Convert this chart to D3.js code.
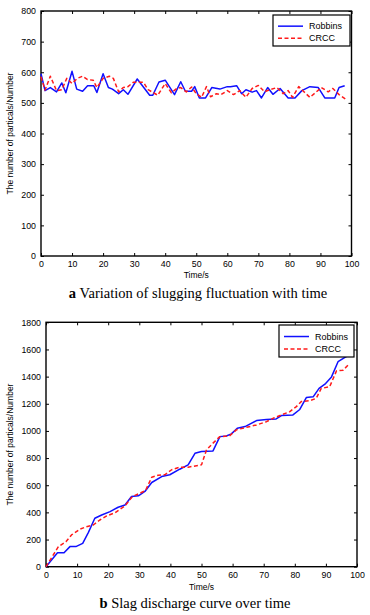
<!DOCTYPE html>
<html><head><meta charset="utf-8">
<script src="https://cdn.jsdelivr.net/npm/d3@7"></script>
<style>body{margin:0;background:#fff;}svg{display:block;}</style>
</head><body>
<script>
// ---- Data (a) slugging fluctuation ----
const robbinsA_t = [0,1.3,3,5,6.7,8,10,11.5,13.4,15,17,18,20,21.7,23,25,26.5,28,31,35,36,38,40,43,45,46.5,48.5,49.5,51,53,55,57.6,60,61,63,64.6,66,68,69.4,71,73,74.7,77,79.6,81.8,84,86.6,89.3,91.4,94.6,96,97.8];
const robbinsA_v = [595,540,550,536,565,533,603,545,538,556,556,534,595,550,545,530,543,528,578,525,525,568,574,527,569,538,538,553,516,516,550,545,553,553,556,530,543,535,540,516,550,528,547,516,516,540,553,550,516,516,550,556];
const crccA_t = [0,1.3,3,5,6.7,8.3,10,11.7,13.4,15,16.8,18,20,22,23.3,25,26.5,28,29.7,33,34.5,37.6,40,42,43.7,45,46.8,48.5,50,51.7,53.3,54.6,56.5,58,60,62,64,66,68,70,72,73.7,76,78,79.6,81,83,84.5,86.6,88.7,90.3,92.5,94,96,98];
const crccA_v = [585,542,587,540,543,580,563,580,587,576,574,550,580,587,580,536,550,553,567,567,543,525,563,533,547,550,536,552,530,518,553,520,530,527,540,527,540,518,547,557,536,543,550,530,540,518,553,538,518,536,550,536,547,527,513];

// ---- Data (b) slag discharge ----
const robbinsB_t = [0,3.7,5.8,7.7,9.6,11.8,13.6,15.7,17.9,20.6,23.2,25.4,27.5,29.7,31.8,34,37.2,39.8,43,45.7,47.9,50,53.7,55.9,58,59.6,61.5,64,67.7,70.9,74,75.7,79.4,81.6,83.7,85.9,87.8,89.9,91.8,93.9,96,97.5];
const robbinsB_v = [0,103,103,148,148,172,251,357,381,406,438,455,517,522,554,620,664,677,718,750,835,849,853,958,963,978,1020,1032,1076,1085,1088,1113,1118,1158,1246,1251,1313,1349,1398,1510,1540,1560];
const crccB_t = [0,4,6.4,8.2,10.9,13,15.2,17.3,19.5,22.2,25.4,27.8,30.2,32,34,36.1,38.2,40.4,43,45.7,50,51.6,53.7,55.9,59,61.2,64.5,67.7,70.9,73,75.7,78.4,80.5,82.1,84.8,86.9,88.5,91.2,93.4,95.5,97.6];
const crccB_v = [0,148,184,234,276,295,307,344,374,398,448,517,541,561,659,674,677,714,733,733,750,860,910,958,963,1008,1027,1044,1068,1093,1118,1142,1179,1216,1223,1240,1313,1325,1442,1447,1496];

const xTicks = [0,10,20,30,40,50,60,70,80,90,100];
const yTicksA = [0,100,200,300,400,500,600,700,800];
const yTicksB = [0,200,400,600,800,1000,1200,1400,1600,1800];
const seriesNames = ["Robbins","CRCC"];
const seriesColors = ["#1010ff","#ff1a1a"];

const svg = d3.select("body").append("svg").attr("width",370).attr("height",615);
const fontSans = "Arial, 'Liberation Sans', Helvetica, sans-serif";
const fontSerif = "'Liberation Serif', 'Times New Roman', serif";
const fmt = d3.format("d");

function panel(opt){
  const x = d3.scaleLinear().domain([0,100]).range([opt.x0,opt.x1]);
  const y = d3.scaleLinear().domain([0,opt.ymax]).range([opt.y0,opt.y1]);
  const g = svg.append("g");
  const tl = 3;
  const bottom = g.append("g").attr("transform",`translate(0,${opt.y0})`)
    .call(d3.axisBottom(x).tickValues(xTicks).tickFormat(fmt).tickSizeInner(-tl).tickSizeOuter(0).tickPadding(6));
  const top = g.append("g").attr("transform",`translate(0,${opt.y1})`)
    .call(d3.axisTop(x).tickValues(xTicks).tickSizeInner(-tl).tickSizeOuter(0).tickFormat(""));
  const left = g.append("g").attr("transform",`translate(${opt.x0},0)`)
    .call(d3.axisLeft(y).tickValues(opt.yTicks).tickFormat(fmt).tickSizeInner(-tl).tickSizeOuter(0).tickPadding(5));
  const right = g.append("g").attr("transform",`translate(${opt.x1},0)`)
    .call(d3.axisRight(y).tickValues(opt.yTicks).tickSizeInner(-tl).tickSizeOuter(0).tickFormat(""));
  [bottom,top,left,right].forEach(a=>{
    a.select(".domain").remove();
    a.selectAll(".tick line").attr("stroke","#000").attr("stroke-width",1);
    a.selectAll("text").attr("font-family",fontSans).attr("font-size","8.8px").attr("fill","#000");
  });
  bottom.selectAll("text").attr("dy","0.6em");
  g.append("rect").attr("x",opt.x0).attr("y",opt.y1).attr("width",opt.x1-opt.x0).attr("height",opt.y0-opt.y1)
    .attr("fill","none").attr("stroke","#000").attr("stroke-width",1.4);
  const line = d3.line().x(d=>x(d[0])).y(d=>y(d[1]));
  opt.series.forEach((s,i)=>{
    g.append("path").datum(d3.zip(s.t,s.v)).attr("d",line).attr("fill","none")
      .attr("stroke",seriesColors[i]).attr("stroke-width",1.5)
      .attr("stroke-dasharray", i===1 ? "4,2.5" : null).attr("stroke-linejoin","round");
  });
  const L = opt.legend;
  g.append("rect").attr("x",L.x).attr("y",L.y).attr("width",L.w).attr("height",L.h)
    .attr("fill","#fff").attr("stroke","#000").attr("stroke-width",1.2);
  seriesNames.forEach((n,i)=>{
    const yy = L.y + L.h*(i===0?0.36:0.75);
    g.append("line").attr("x1",L.x+5).attr("x2",L.x+30).attr("y1",yy).attr("y2",yy)
      .attr("stroke",seriesColors[i]).attr("stroke-width",1.5).attr("stroke-dasharray", i===1?"4,2.5":null);
    g.append("text").attr("x",L.x+36).attr("y",yy).attr("dy","0.35em").text(n)
      .attr("font-family",fontSans).attr("font-size","9px").attr("fill","#000");
  });
  g.append("text").attr("x",(opt.x0+opt.x1)/2).attr("y",opt.xlabY).attr("text-anchor","middle")
    .attr("font-family",fontSans).attr("font-size","8.5px").text("Time/s");
  g.append("text").attr("transform",`translate(${opt.ylabX},${(opt.y0+opt.y1)/2}) rotate(-90)`)
    .attr("text-anchor","middle").attr("font-family",fontSans).attr("font-size","8.5px")
    .text("The number of particals/Number");
  const cap = g.append("text").attr("x",opt.capX).attr("y",opt.capY).attr("text-anchor","middle")
    .attr("font-family",fontSerif).attr("font-size","14.5px").attr("fill","#000");
  cap.append("tspan").attr("font-weight","bold").text(opt.capLetter+" ");
  cap.append("tspan").text(opt.capText);
}

panel({x0:41,x1:351.5,y0:256,y1:11,ymax:800,yTicks:yTicksA,
  series:[{t:robbinsA_t,v:robbinsA_v},{t:crccA_t,v:crccA_v}],
  legend:{x:273,y:15,w:77,h:31}, xlabY:278, ylabX:13, capX:198, capY:298,
  capLetter:"a", capText:"Variation of slugging fluctuation with time"});

panel({x0:46,x1:357,y0:566.7,y1:322.3,ymax:1800,yTicks:yTicksB,
  series:[{t:robbinsB_t,v:robbinsB_v},{t:crccB_t,v:crccB_v}],
  legend:{x:279,y:325,w:75,h:32}, xlabY:590, ylabX:13, capX:195, capY:608,
  capLetter:"b", capText:"Slag discharge curve over time"});
</script>
</body></html>
